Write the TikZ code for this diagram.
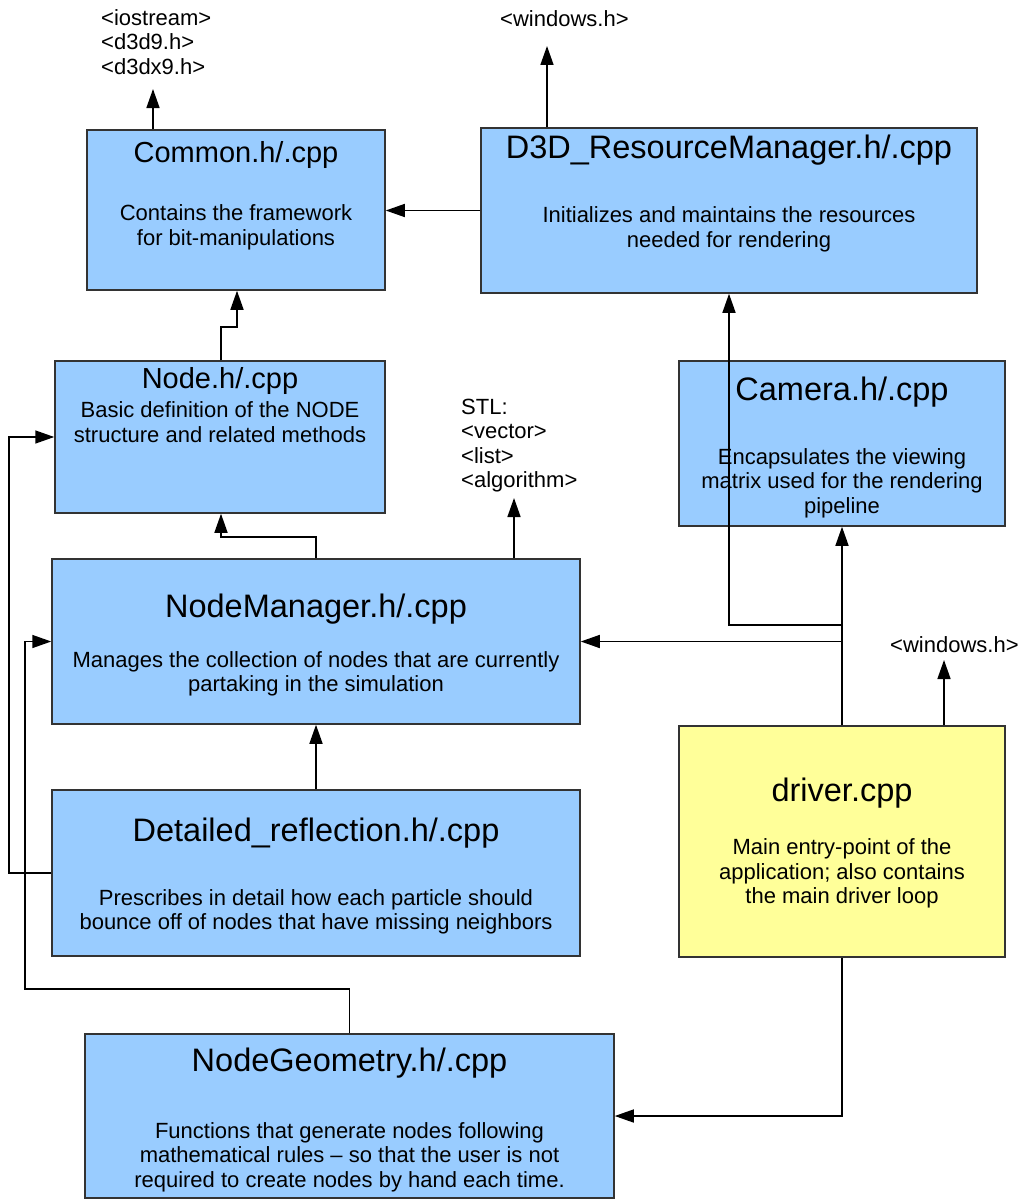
\documentclass[tikz,border=0pt]{standalone}
\usepackage{fontspec}
\setmainfont{Liberation Sans}
\usetikzlibrary{arrows.meta,calc}
\definecolor{boxblue}{HTML}{99CCFF}
\definecolor{boxyellow}{HTML}{FFFF99}
\definecolor{edge}{HTML}{333333}
\begin{document}
\begin{tikzpicture}[x=1pt,y=-1pt,
  box/.style={draw=edge,line width=1.5pt,fill=boxblue,rectangle,inner sep=0pt},
  ybox/.style={box,fill=boxyellow},
  ttl/.style={font=\fontsize{32.5}{38}\selectfont,anchor=base,inner sep=0pt},
  ttls/.style={font=\fontsize{29}{34}\selectfont,anchor=base,inner sep=0pt},
  body/.style={font=\fontsize{22}{24.5}\selectfont,align=center,inner sep=0pt,anchor=center},
  inc/.style={font=\fontsize{22}{24.5}\selectfont,align=left,inner sep=0pt,anchor=west},
  arr/.style={line width=1.5pt,-{Triangle[length=19pt,width=13pt]}},
  ln/.style={line width=1.5pt}]
\useasboundingbox (0,0) rectangle (1021,1199);

% boxes
\node[box,minimum width=298,minimum height=160] (common) at (236,210) {};
\node[box,minimum width=496,minimum height=165] (d3d) at (729,210.5) {};
\node[box,minimum width=330,minimum height=152] (node) at (220,437) {};
\node[box,minimum width=326,minimum height=165] (camera) at (842,443.5) {};
\node[box,minimum width=528,minimum height=165] (nm) at (316,641.5) {};
\node[ybox,minimum width=326,minimum height=231] (driver) at (842,841.5) {};
\node[box,minimum width=528,minimum height=166] (detailed) at (316,873) {};
\node[box,minimum width=529,minimum height=164] (geom) at (349.5,1116) {};

% texts in boxes
\node[ttls] (commonT) at (236,162.3) {Common.h/.cpp};
\node[body] (commonB) at (236,227.5) {Contains the framework\\for bit-manipulations};
\node[ttl] (d3dT) at (729,158.5) {D3D\_ResourceManager.h/.cpp};
\node[body] (d3dB) at (729,229.5) {Initializes and maintains the resources\\needed for rendering};
\node[ttls] (nodeT) at (220,388) {Node.h/.cpp};
\node[body] (nodeB) at (220,422) {Basic definition of the NODE\\structure and related methods};
\node[ttl] (cameraT) at (842,400) {Camera.h/.cpp};
\node[body] (cameraB) at (842,483) {Encapsulates the viewing\\matrix used for the rendering\\pipeline};
\node[ttl] (nmT) at (316,617) {NodeManager.h/.cpp};
\node[body] (nmB) at (316,674) {Manages the collection of nodes that are currently\\partaking in the simulation};
\node[ttl] (driverT) at (842,801.7) {driver.cpp};
\node[body] (driverB) at (842,873.7) {Main entry-point of the\\application; also contains\\the main driver loop};
\node[ttl] (detailedT) at (316,841.7) {Detailed\_reflection.h/.cpp};
\node[body] (detailedB) at (316,912) {Prescribes in detail how each particle should\\bounce off of nodes that have missing neighbors};
\node[ttl] (geomT) at (349.5,1071.7) {NodeGeometry.h/.cpp};
\node[body] (geomB) at (349.5,1157) {Functions that generate nodes following\\mathematical rules -- so that the user is not\\required to create nodes by hand each time.};

% include labels
\node[inc] (incl1) at (101,41.7) {<iostream>\\<d3d9.h>\\<d3dx9.h>};
\node[inc] (incl2) at (500,19) {<windows.h>};
\node[inc] (incl3) at (461,445.5) {STL:\\<vector>\\<list>\\<algorithm>};
\node[inc] (incl4) at (890,645) {<windows.h>};

% helper coordinates
\coordinate (incA) at (153,89);
\coordinate (winA) at (547,46);
\coordinate (stlA) at (514,498);
\coordinate (winB) at (944,660);
\coordinate (b1) at (221,327);
\coordinate (b2) at (237,327);
\coordinate (b3) at (316,537);
\coordinate (b4) at (221,537);
\coordinate (b5) at (9,873);
\coordinate (b6) at (25,989);
\coordinate (b7) at (729,625);

% connectors
\draw[arr] (common.north -| incA) -- (incA);
\draw[arr] (d3d.north -| winA) -- (winA);
\draw[arr] (d3d.west) -- (common.east |- d3d.west);
\draw[arr] (node.north -| b1) -- (b1) -- (b2) -- (common.south -| b2);
\draw[arr] (nm.north -| b3) -- (b3) -- (b4) -- (node.south -| b4);
\draw[arr] (nm.north -| stlA) -- (stlA);
\draw[arr] (detailed.west) -- (b5) |- (node.west);
\draw[arr] (geom.north) |- (b6) |- (nm.west);
\draw[arr] (detailed.north) -- (nm.south);
\draw[arr] (driver.north) -- (camera.south);
\draw[arr] (driver.north |- nm.east) -- (nm.east);
\draw[arr] (driver.north |- b7) -- (b7) -- (d3d.south);
\draw[arr] (driver.north -| winB) -- (winB);
\draw[arr] (driver.south) |- (geom.east);
\end{tikzpicture}
\end{document}
